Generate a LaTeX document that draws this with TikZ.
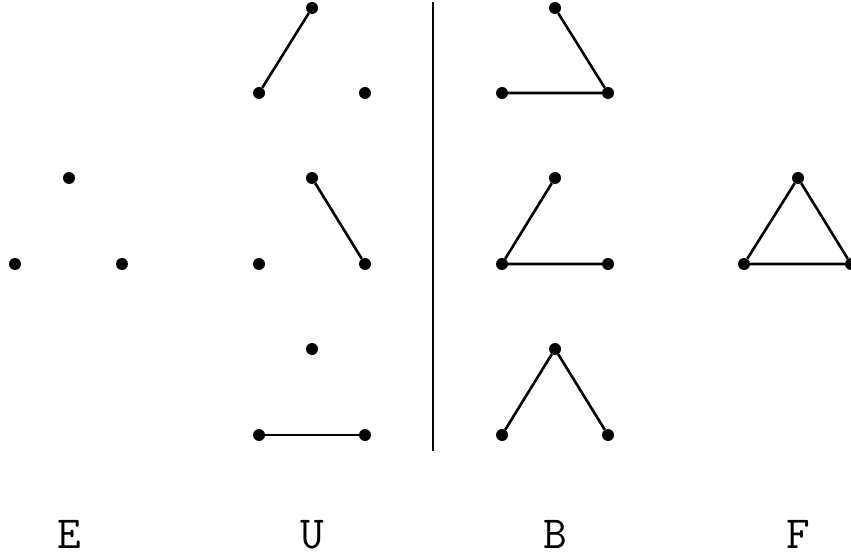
\documentclass[tikz,border=0pt]{standalone}
\begin{document}
\begin{tikzpicture}[x=1pt,y=-1pt,
  vtx/.style={circle,fill=black,inner sep=0pt,minimum size=12pt},
  edge/.style={line width=2.6pt},
  lbl/.style={font=\fontsize{46}{50}\selectfont\ttfamily,anchor=base,inner sep=0pt}]
\useasboundingbox (0,0) rectangle (851,556);
% E
\node[vtx] (e1) at (69,178) {};
\node[vtx] (e2) at (15,264) {};
\node[vtx] (e3) at (122,264) {};
% U top
\node[vtx] (u1a) at (312,8) {};
\node[vtx] (u1b) at (259,93) {};
\node[vtx] (u1c) at (365,93) {};
\draw[edge] (u1b) -- (u1a);
% U mid
\node[vtx] (u2a) at (312,178) {};
\node[vtx] (u2b) at (259,264) {};
\node[vtx] (u2c) at (365,264) {};
\draw[edge] (u2a) -- (u2c);
% U bottom
\node[vtx] (u3a) at (312,349) {};
\node[vtx] (u3b) at (259,435) {};
\node[vtx] (u3c) at (365,435) {};
\draw[edge] (u3b) -- (u3c);
% divider
\coordinate (d1) at (433,2);
\coordinate (d2) at (433,451);
\draw[edge] (d1) -- (d2);
% B top
\node[vtx] (b1a) at (555,8) {};
\node[vtx] (b1b) at (502,93) {};
\node[vtx] (b1c) at (608,93) {};
\draw[edge] (b1a) -- (b1c) -- (b1b);
% B mid
\node[vtx] (b2a) at (555,178) {};
\node[vtx] (b2b) at (502,264) {};
\node[vtx] (b2c) at (608,264) {};
\draw[edge] (b2a) -- (b2b) -- (b2c);
% B bottom
\node[vtx] (b3a) at (555,349) {};
\node[vtx] (b3b) at (502,435) {};
\node[vtx] (b3c) at (608,435) {};
\draw[edge] (b3b) -- (b3a) -- (b3c);
% F
\node[vtx] (f1) at (798,178) {};
\node[vtx] (f2) at (744,264) {};
\node[vtx] (f3) at (851,264) {};
\draw[edge] (f1) -- (f2) -- (f3) -- (f1);
% labels
\node[lbl] (le) at (69,548) {E};
\node[lbl] (lu) at (312,548) {U};
\node[lbl] (lb) at (555,548) {B};
\node[lbl] (lf) at (798,548) {F};
\end{tikzpicture}
\end{document}
